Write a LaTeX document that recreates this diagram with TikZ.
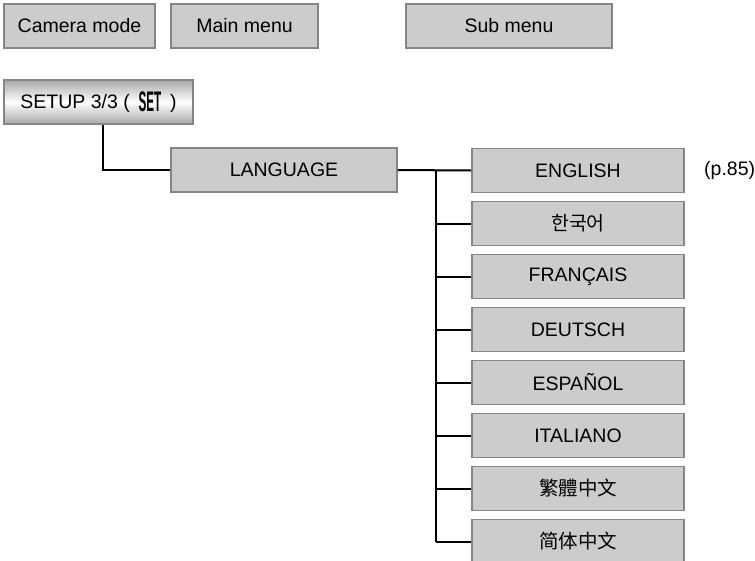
\documentclass[tikz,border=0pt]{standalone}
\usepackage{fontspec}
\setmainfont{Liberation Sans}
\newfontfamily\krfont{Noto Sans CJK KR}
\newfontfamily\tcfont{Noto Sans CJK TC}
\newfontfamily\scfont{Noto Sans CJK SC}
\definecolor{boxfill}{HTML}{CCCCCC}
\definecolor{boxedge}{HTML}{858585}
\definecolor{shadeedge}{HTML}{A8A8A8}
\begin{document}
\begin{tikzpicture}[x=1pt,y=-1pt,
  menubox/.style={draw=boxedge, line width=1.8pt, fill=boxfill, inner sep=0pt,
    minimum height=44pt, font=\fontsize{19.5}{21}\selectfont},
  setbox/.style={draw=boxedge, line width=1.8pt, top color=shadeedge, bottom color=shadeedge,
    middle color=white, inner sep=0pt, minimum height=44pt, minimum width=189pt,
    font=\fontsize{19.5}{21}\selectfont},
  subbox/.style={menubox, minimum width=212pt},
  link/.style={draw=black, line width=2pt}
]
\useasboundingbox (0,0) rectangle (755,560);
\clip (0,0) rectangle (755,560);
\node[menubox, minimum width=151pt] (cam) at (79.5,26) {Camera mode};
\node[menubox, minimum width=147pt] (main) at (244.5,26) {Main menu};
\node[menubox, minimum width=206pt] (sub) at (509,26) {Sub menu};
\node[setbox] (setup) at (98.5,102) {SETUP 3/3 (\hspace{0.45em}\raisebox{-3pt}{\scalebox{0.6}[1.45]{\bfseries SET}}\hspace{0.45em})};
\node[menubox, minimum width=226pt] (lang) at (284,170) {LANGUAGE};
\node[subbox] (s1) at (578,170.5) {ENGLISH};
\node[subbox] (s2) at (578,223.5) {\krfont 한국어};
\node[subbox] (s3) at (578,276.5) {FRANÇAIS};
\node[subbox] (s4) at (578,329.5) {DEUTSCH};
\node[subbox] (s5) at (578,382.5) {ESPAÑOL};
\node[subbox] (s6) at (578,435.5) {ITALIANO};
\node[subbox] (s7) at (578,488.5) {\tcfont 繁體中文};
\node[subbox] (s8) at (578,541.5) {\scfont 简体中文};
\node[anchor=west, inner sep=0pt, font=\fontsize{19.5}{21}\selectfont] (p85) at (704,170) {(p.85)};
\draw[link] ([xshift=4.5pt]setup.south) |- (lang.west);
\draw[link] (lang.east) -- (s1.west);
\coordinate (bus) at (435.5,170.5);
\draw[link] (bus) -- (bus |- s8.west);
\foreach \i in {2,...,8} {\draw[link] (bus |- s\i.west) -- (s\i.west);}
\end{tikzpicture}
\end{document}
